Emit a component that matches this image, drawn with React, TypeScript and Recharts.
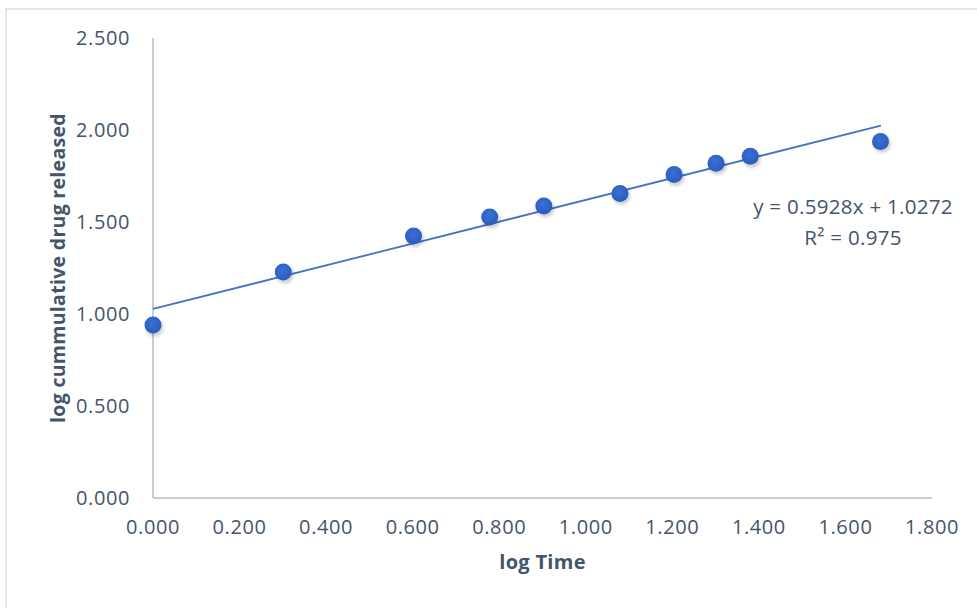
import { ScatterChart, Scatter, XAxis, YAxis } from 'recharts'

const logTime = [0, 0.301, 0.602, 0.778, 0.903, 1.079, 1.204, 1.301, 1.38, 1.681]
const logReleased = [0.94, 1.228, 1.424, 1.527, 1.587, 1.655, 1.758, 1.819, 1.857, 1.938]
const xTicks = [0, 0.2, 0.4, 0.6, 0.8, 1.0, 1.2, 1.4, 1.6, 1.8]
const yTicks = [0, 0.5, 1.0, 1.5, 2.0, 2.5]
const slope = 0.5928
const intercept = 1.0272
const trendRange = [0, 1.682]

const TEXT = '#44546a'
const AXIS = '#b4bccb'
const FONT = '"Open Sans", "Noto Sans", sans-serif'

const points = logTime.map((x, i) => ({ x, y: logReleased[i] }))
const trend = trendRange.map((x) => ({ x, y: slope * x + intercept }))

function Marker(props: any) {
  const { cx, cy } = props
  if (cx == null || cy == null) return <g />
  return (
    <g>
      <circle cx={cx + 1.5} cy={cy + 2.5} r={9} fill="#000" opacity={0.18} filter="url(#blur)" />
      <circle cx={cx} cy={cy} r={8.5} fill="url(#dot)" />
    </g>
  )
}

export default function App() {
  return (
    <div style={{ position: 'absolute', left: 0, top: 0, width: 977, height: 608, background: '#fff', fontFamily: FONT }}>
      <div style={{ position: 'absolute', left: 5, top: 8, width: 972, height: 600, borderLeft: '2px solid #e3e6eb', borderTop: '2px solid #e3e6eb', boxSizing: 'border-box' }} />
      <ScatterChart width={977} height={608} margin={{ top: 38, right: 45, bottom: 70, left: 93 }} style={{ position: 'absolute', left: 0, top: 0 }}>
        <defs>
          <radialGradient id="dot" cx="45%" cy="40%" r="60%">
            <stop offset="0%" stopColor="#3b70d6" />
            <stop offset="100%" stopColor="#2a5cbf" />
          </radialGradient>
          <filter id="blur" x="-50%" y="-50%" width="200%" height="200%">
            <feGaussianBlur stdDeviation="1.8" />
          </filter>
        </defs>
        <XAxis
          type="number"
          dataKey="x"
          domain={[0, 1.8]}
          ticks={xTicks}
          tickFormatter={(v: number) => v.toFixed(3)}
          tick={{ fill: TEXT, fontSize: 20, fontFamily: FONT, letterSpacing: 0.6 }}
          tickLine={false}
          tickMargin={16}
          axisLine={{ stroke: AXIS, strokeWidth: 1.5 }}
          height={40}
          interval={0}
          label={{
            value: 'log Time',
            position: 'bottom',
            offset: 17,
            style: { fill: TEXT, fontSize: 20, fontWeight: 700, fontFamily: FONT, letterSpacing: 0.3 },
          }}
        />
        <YAxis
          type="number"
          dataKey="y"
          domain={[0, 2.5]}
          ticks={yTicks}
          tickFormatter={(v: number) => v.toFixed(3)}
          tick={{ fill: TEXT, fontSize: 20, fontFamily: FONT, letterSpacing: 0.6 }}
          tickLine={false}
          tickMargin={17}
          axisLine={{ stroke: AXIS, strokeWidth: 1.5 }}
          width={60}
          interval={0}
          label={{
            content: ({ viewBox }: any) => {
              const cx = viewBox.x - 36
              const cy = viewBox.y + viewBox.height / 2
              return (
                <text x={cx} y={cy} transform={`rotate(-90 ${cx} ${cy})`} textAnchor="middle" dominantBaseline="central" fill={TEXT} fontSize={19.5} fontWeight={700} fontFamily={FONT} letterSpacing={0.3}>
                  log cummulative drug released
                </text>
              )
            },
          }}
        />
        <Scatter data={trend} line={{ stroke: '#4472c4', strokeWidth: 1.8 }} shape={() => <g />} isAnimationActive={false} />
        <Scatter data={points} shape={Marker} isAnimationActive={false} />
      </ScatterChart>
      <div style={{ position: 'absolute', left: 735, top: 191, width: 236, textAlign: 'center', color: TEXT, fontSize: 20.5, lineHeight: '31px', fontFamily: FONT, letterSpacing: 0.3 }}>
        <div>y = 0.5928x + 1.0272</div>
        <div>R² = 0.975</div>
      </div>
    </div>
  )
}
